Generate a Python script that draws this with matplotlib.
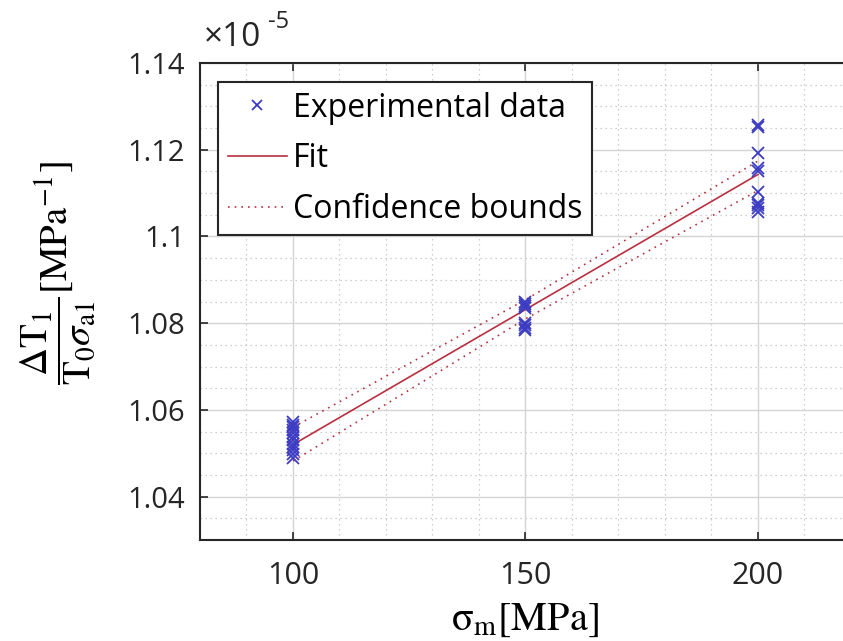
import matplotlib
matplotlib.use("Agg")
import matplotlib.pyplot as plt
from matplotlib.ticker import MultipleLocator, FuncFormatter

# ---- data (values in units of 1e-5 MPa^-1) ----
x_100 = [100] * 12
y_100 = [1.0573, 1.0566, 1.0560, 1.0553, 1.0546, 1.0538, 1.0530, 1.0522,
         1.0515, 1.0508, 1.0498, 1.0490]
x_150 = [150] * 8
y_150 = [1.0850, 1.0845, 1.0840, 1.0835, 1.0800, 1.0795, 1.0790, 1.0785]
x_200 = [200] * 10
y_200 = [1.1257, 1.1252, 1.1193, 1.1158, 1.1152, 1.1103, 1.1078, 1.1072,
         1.1066, 1.1057]

fit_x = [100, 200]
fit_y = [1.0520, 1.1143]
bound_x = [100, 150, 200]
upper_y = [1.0560, 1.0854, 1.1174]
lower_y = [1.0482, 1.0810, 1.1106]

xticks = [100, 150, 200]
yticks = [1.04, 1.06, 1.08, 1.1, 1.12, 1.14]

plt.rcParams["mathtext.fontset"] = "stix"

W, H = 843, 641
fig = plt.figure(figsize=(W / 100, H / 100), dpi=100)
ax = fig.add_axes([200 / W, (H - 540) / H, (851 - 200) / W, (540 - 63) / H])

dark = "#262626"
blue = "#3b3bc4"
red = "#b8303f"

xs = x_100 + x_150 + x_200
ys = y_100 + y_150 + y_200
ax.plot(xs, ys, linestyle="none", marker="x", color=blue, ms=9, mew=1.3,
        label="Experimental data", zorder=3)
ax.plot(fit_x, fit_y, color=red, lw=1.2, label="Fit", zorder=2)
ax.plot(bound_x, upper_y, color=red, lw=1.2, ls=(0, (1, 3)),
        label="Confidence bounds", zorder=2)
ax.plot(bound_x, lower_y, color=red, lw=1.2, ls=(0, (1, 3)), zorder=2)

ax.set_xlim(80, 220)
ax.set_ylim(1.03, 1.14)
ax.set_xticks(xticks)
ax.set_yticks(yticks)
ax.xaxis.set_minor_locator(MultipleLocator(10))
ax.yaxis.set_minor_locator(MultipleLocator(0.005))
ax.yaxis.set_major_formatter(FuncFormatter(lambda v, p: f"{v:g}"))

ax.grid(which="major", color="#d4d4d4", lw=1.0, ls="-")
ax.grid(which="minor", color="#c0c0c0", lw=0.9, ls=(0, (1, 3)))
ax.set_axisbelow(True)

ax.tick_params(which="major", direction="in", length=6, width=1.2,
               color=dark, top=True, right=False, labelcolor=dark)
ax.tick_params(axis="x", which="major", labelsize=22, pad=15)
ax.tick_params(axis="y", which="major", labelsize=21, pad=11)
ax.tick_params(which="minor", length=0)
for lab in ax.get_xticklabels() + ax.get_yticklabels():
    lab.set_family("Open Sans")
for s in ax.spines.values():
    s.set_color(dark)
    s.set_linewidth(1.5)
ax.spines["right"].set_visible(False)

leg = ax.legend(loc="upper left", bbox_to_anchor=(0.028, 0.96),
                borderaxespad=0, fancybox=False, framealpha=1,
                edgecolor=dark, prop={"family": "Open Sans", "size": 23},
                handlelength=1.85, handletextpad=0.2, labelspacing=0.55,
                borderpad=0.3, markerscale=0.8)
leg.get_frame().set_linewidth(1.5)

fig.text(204 / W, 1 - 38 / H, "\u00d710", fontsize=24,
         family="Open Sans", color=dark, va="center", ha="left")
fig.text(268 / W, 1 - 22 / H, "-5", fontsize=17,
         family="Open Sans", color=dark, va="center", ha="left")

fig.text(525 / W, 1 - 619 / H, r"$\mathrm{\sigma_m[MPa]}$", fontsize=29,
         ha="center", va="center", color="black")
fig.text(58 / W, 1 - 273 / H,
         r"$\dfrac{\Delta\mathrm{T}_1}{\mathrm{T}_0\sigma_{\mathrm{a}1}}[\mathrm{MPa}^{-1}]$",
         fontsize=28, rotation=90, ha="center", va="center", color="black")

fig.savefig("out.png", dpi=100)
